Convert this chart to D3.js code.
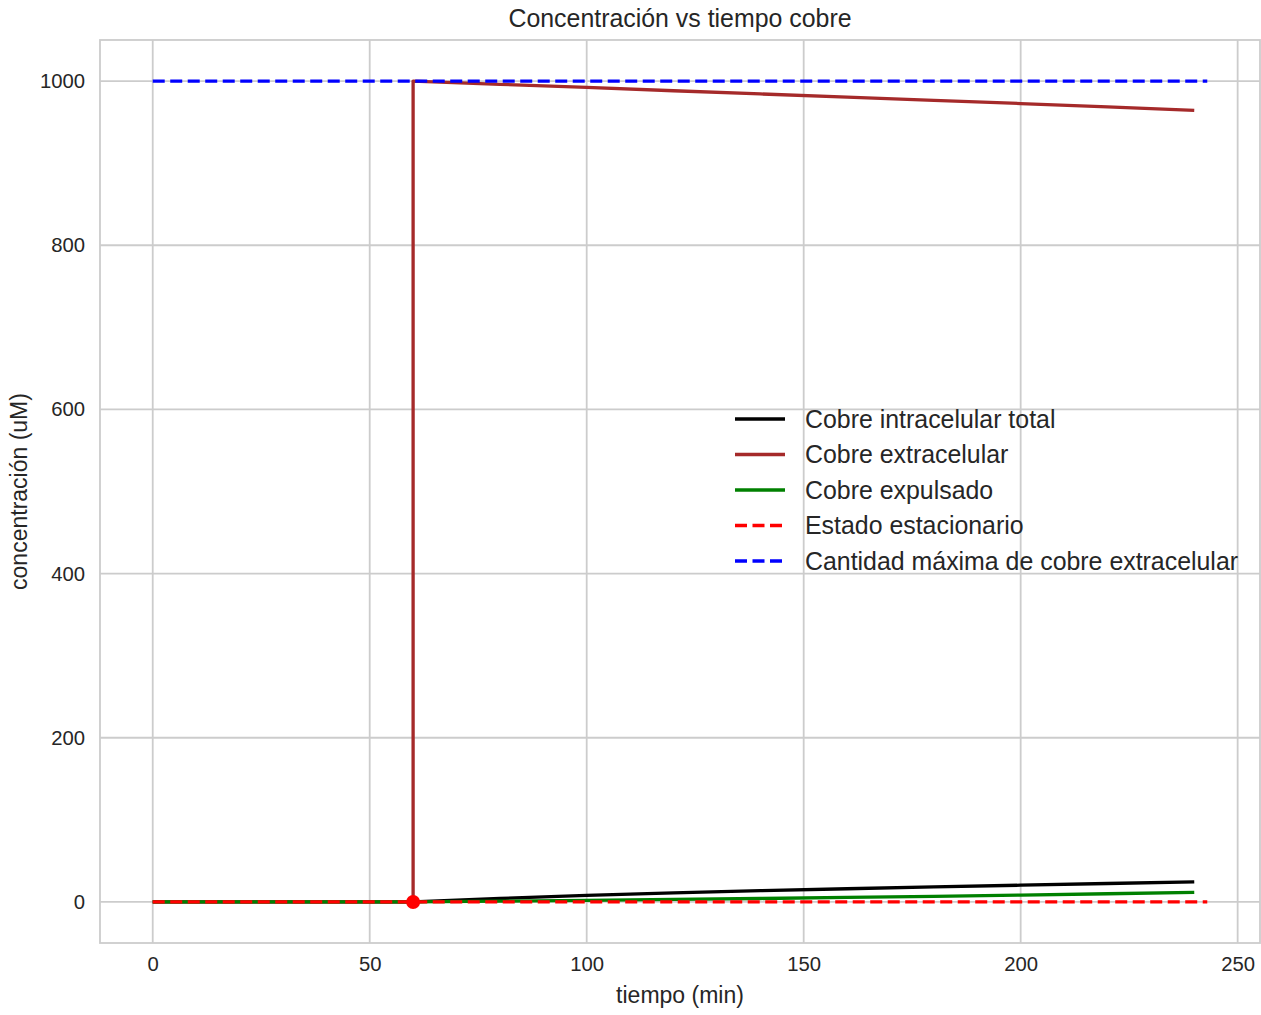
<!DOCTYPE html>
<html>
<head>
<meta charset="utf-8">
<script src="https://cdn.jsdelivr.net/npm/d3@7"></script>
<style>
  body { margin: 0; background: #fff; }
  svg { display: block; font-family: "Liberation Sans", Arial, sans-serif; }
</style>
</head>
<body>
<svg id="chart" width="1261" height="1015"></svg>
<script>
// ---- data ----
const time = [0, 20, 40, 60, 60, 80, 100, 120, 140, 160, 180, 200, 220, 240];
const intracelularTotal = [0, 0, 0, 0, 0, 4.2, 8.0, 11.0, 13.7, 16.1, 18.3, 20.4, 22.5, 24.5];
const extracelular = [0, 0, 0, 0, 1000, 996.0, 992.2, 988.2, 984.3, 980.4, 976.5, 972.6, 968.5, 964.3];
const expulsado = [0, 0, 0, 0, 0, 0.9, 2.0, 3.1, 4.2, 5.5, 6.9, 8.4, 10.0, 11.7];
const refSpan = [0, 243];
const estadoEstacionario = 0;
const cantidadMaxima = 1000;
const markerPoint = [60, 0];
const xTicks = [0, 50, 100, 150, 200, 250];
const yTicks = [0, 200, 400, 600, 800, 1000];
const labels = ["Cobre intracelular total", "Cobre extracelular", "Cobre expulsado",
                "Estado estacionario", "Cantidad máxima de cobre extracelular"];
const colors = ["#000000", "#a52a2a", "#008000", "#ff0000", "#0000ff"];
const dashed = [false, false, false, true, true];

// ---- layout ----
const svg = d3.select("#chart");
const m = { left: 100, top: 40, right: 1, bottom: 72 };
const W = 1261 - m.left - m.right, H = 1015 - m.top - m.bottom;
const x = d3.scaleLinear().domain([-12.15, 255.15]).range([0, W]);
const y = d3.scaleLinear().domain([-50, 1050]).range([H, 0]);
const g = svg.append("g").attr("transform", `translate(${m.left},${m.top})`);
const textColor = "#262626", gridColor = "#cccccc";
const lw = 3.3, dash = "12,5.5";

// grid
g.append("g").selectAll("line").data(xTicks).join("line")
  .attr("x1", d => x(d)).attr("x2", d => x(d)).attr("y1", 0).attr("y2", H)
  .attr("stroke", gridColor).attr("stroke-width", 1.8);
g.append("g").selectAll("line").data(yTicks).join("line")
  .attr("y1", d => y(d)).attr("y2", d => y(d)).attr("x1", 0).attr("x2", W)
  .attr("stroke", gridColor).attr("stroke-width", 1.8);

// axes (text only)
const xAxis = g.append("g").attr("transform", `translate(0,${H})`)
  .call(d3.axisBottom(x).tickValues(xTicks).tickSize(0).tickPadding(14).tickFormat(d3.format("d")));
const yAxis = g.append("g")
  .call(d3.axisLeft(y).tickValues(yTicks).tickSize(0).tickPadding(15).tickFormat(d3.format("d")));
[xAxis, yAxis].forEach(a => {
  a.select(".domain").remove();
  a.selectAll("text").attr("fill", textColor).style("font-size", "20.3px")
    .style("font-family", "'Liberation Sans', Arial, sans-serif");
});

// frame
g.append("rect").attr("x", 0).attr("y", 0).attr("width", W).attr("height", H)
  .attr("fill", "none").attr("stroke", gridColor).attr("stroke-width", 1.8);

// lines
const series = [intracelularTotal, extracelular, expulsado];
const line = d3.line().x(d => x(d[0])).y(d => y(d[1]));
series.forEach((s, i) => {
  g.append("path").datum(time.map((t, k) => [t, s[k]]))
    .attr("d", line).attr("fill", "none").attr("stroke", colors[i])
    .attr("stroke-width", lw).attr("stroke-linejoin", "round");
});
[estadoEstacionario, cantidadMaxima].forEach((v, i) => {
  g.append("path").datum(refSpan.map(t => [t, v]))
    .attr("d", line).attr("fill", "none").attr("stroke", colors[3 + i])
    .attr("stroke-width", lw).attr("stroke-dasharray", dash);
});
g.append("circle").attr("cx", x(markerPoint[0])).attr("cy", y(markerPoint[1]))
  .attr("r", 7).attr("fill", "#ff0000");

// legend
const leg = g.append("g").attr("transform", `translate(${735 - m.left},${419 - m.top})`);
labels.forEach((lab, i) => {
  const row = leg.append("g").attr("transform", `translate(0,${i * 35.5})`);
  row.append("line").attr("x1", 0).attr("x2", 50).attr("y1", 0).attr("y2", 0)
    .attr("stroke", colors[i]).attr("stroke-width", lw)
    .attr("stroke-dasharray", dashed[i] ? dash : null);
  row.append("text").attr("x", 70).attr("y", 0).attr("dy", "0.35em")
    .attr("fill", textColor).style("font-size", "24.9px").text(lab);
});

// titles
svg.append("text").attr("x", m.left + W / 2).attr("y", 27).attr("text-anchor", "middle")
  .attr("fill", textColor).style("font-size", "24.9px").text("Concentración vs tiempo cobre");
svg.append("text").attr("x", m.left + W / 2).attr("y", 1003).attr("text-anchor", "middle")
  .attr("fill", textColor).style("font-size", "23px").text("tiempo (min)");
svg.append("text").attr("transform", `translate(27,${m.top + H / 2}) rotate(-90)`)
  .attr("text-anchor", "middle").attr("fill", textColor).style("font-size", "23px")
  .text("concentración (uM)");
</script>
</body>
</html>
